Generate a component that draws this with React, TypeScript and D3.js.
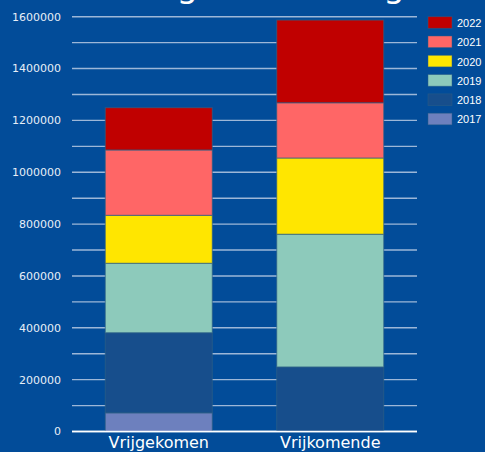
import React from "react";
import * as d3 from "d3";

const categories = ["Vrijgekomen", "Vrijkomende"];
const years = ["2017", "2018", "2019", "2020", "2021", "2022"];
const v2017 = [72000, 0];
const v2018 = [309000, 249000];
const v2019 = [268000, 512000];
const v2020 = [185000, 294000];
const v2021 = [252000, 213000];
const v2022 = [163000, 319000];
const yTicks = [0, 200000, 400000, 600000, 800000, 1000000, 1200000, 1400000, 1600000];
const gridTicks = d3.range(0, 1600001, 100000);
const colors = ["#6d80be", "#174e8c", "#8dcabb", "#ffe600", "#ff6666", "#c00000"];

const W = 485;
const H = 452;

export default function App() {
  const series = [v2017, v2018, v2019, v2020, v2021, v2022];
  const rows = categories.map((c, i) => {
    const r: any = { cat: c };
    years.forEach((y, k) => (r[y] = series[k][i]));
    return r;
  });
  const stack = d3.stack().keys(years)(rows);
  const x = d3.scaleBand().domain(categories).range([72, 417]).paddingInner(0.376).paddingOuter(0.194);
  const y = d3.scaleLinear().domain([0, 1600000]).range([431.5, 16.7]);
  const bg = "#024c99";
  return (
    <svg width={W} height={H} style={{ position: "absolute", left: 0, top: 0, display: "block" }}>
      <rect x={0} y={0} width={W} height={H} fill={bg} />
      <text x={-22} y={-3} fontFamily="DejaVu Sans" fontSize={34} fill="#ffffff">
        Ontwikkeling van woningen
      </text>
      {gridTicks.map((t) => (
        <line key={t} x1={72} x2={417} y1={y(t)} y2={y(t)} stroke={t === 0 ? "#ffffff" : "#9db7d8"} strokeWidth={1.4} />
      ))}
      {yTicks.map((t) => (
        <text key={t} x={61} y={y(t)} dy="0.35em" textAnchor="end" fontFamily="DejaVu Sans" fontSize={11} fill="#e8eef7">
          {t}
        </text>
      ))}
      {stack.map((s, k) =>
        s.map((d, i) =>
          d[1] - d[0] > 0 ? (
            <rect
              key={k + "-" + i}
              x={x(categories[i])}
              width={x.bandwidth()}
              y={y(d[1])}
              height={y(d[0]) - y(d[1])}
              fill={colors[k]}
              stroke="#2e5f86"
              strokeOpacity={0.7}
              strokeWidth={1}
            />
          ) : null
        )
      )}
      <line x1={72} x2={417} y1={y(0)} y2={y(0)} stroke="#ffffff" strokeWidth={1.4} />
      {categories.map((c) => (
        <text key={c} x={(x(c) as number) + x.bandwidth() / 2} y={448} textAnchor="middle" fontFamily="DejaVu Sans" fontSize={16} fill="#ffffff">
          {c}
        </text>
      ))}
      {years
        .slice()
        .reverse()
        .map((yr, i) => (
          <g key={yr} transform={`translate(428, ${16.7 + i * 19.3})`}>
            <rect width={24} height={11.6} fill={colors[years.length - 1 - i]} stroke="#2e5f86" strokeOpacity={0.6} strokeWidth={0.8} />
            <text x={29} y={10.3} fontFamily="Liberation Sans, Arial, sans-serif" fontSize={11} fill="#ffffff">
              {yr}
            </text>
          </g>
        ))}
    </svg>
  );
}
